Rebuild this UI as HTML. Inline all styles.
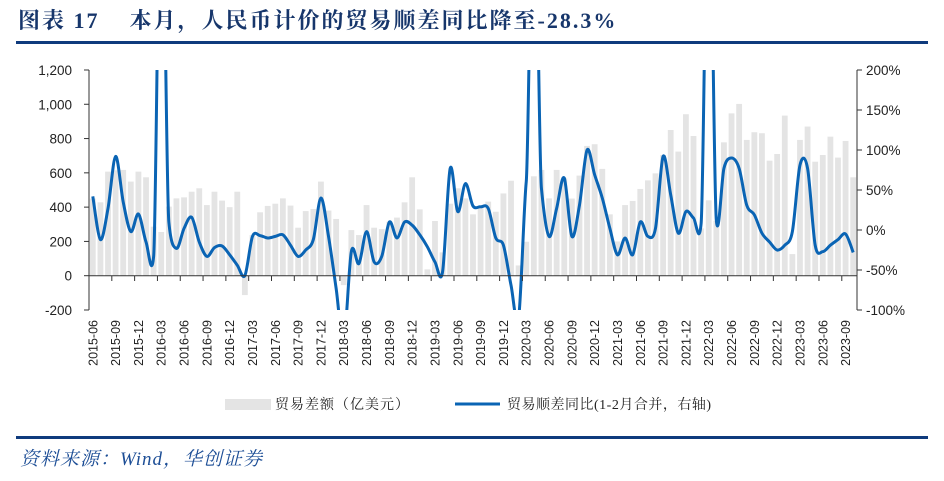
<!DOCTYPE html>
<html><head><meta charset="utf-8">
<style>
html,body{margin:0;padding:0;background:#fff;}
body{width:944px;height:481px;position:relative;overflow:hidden;}
.t{position:absolute;left:18px;top:4px;font:bold 22px "Liberation Serif","Noto Serif CJK SC",serif;color:#17366b;white-space:nowrap;letter-spacing:2px;}
.src{position:absolute;left:20px;top:444px;font:italic 19px "Liberation Serif","Noto Serif CJK SC",serif;color:#1d4e96;letter-spacing:1px;}
</style></head><body>
<div class="t">图表 17&nbsp;&nbsp;&nbsp;&nbsp;本月，人民币计价的贸易顺差同比降至-28.3%</div>
<div style="position:absolute;left:16px;top:41px;width:912px;height:3px;background:#0f3b7d"></div>
<div style="position:absolute;left:16px;top:436px;width:912px;height:3px;background:#0f3b7d"></div>
<div class="src">资料来源：Wind，华创证券</div>
<svg id="s" width="944" height="481" style="position:absolute;left:0;top:0" xmlns="http://www.w3.org/2000/svg"></svg>
<script>
var bars=[450,428,607,615,617,549,607,574,286,255,403,451,457,490,510,412,490,438,400,490,-113,237,370,407,420,451,409,280,377,389,549,380,331,-55,266,237,412,280,272,315,339,428,574,387,37,319,136,420,510,451,358,393,432,373,480,554,60,198,580,617,451,617,568,450,584,757,767,623,358,200,412,436,506,556,597,704,850,724,942,815,276,440,320,778,947,1002,792,837,831,671,710,934,126,792,870,665,704,811,689,786,574];
var line=[42,-12,27,92,35,-2,20,-15,-33,500,10,-23,2,16,-15,-33,-22,-20,-31,-44,-57,-8,-7,-10,-8,-6,-19,-33,-25,-12,40,-8,-73,-140,-27,-42,-2,-40,-33,10,-10,10,6,-6,-21,-40,-52,77,23,58,30,29,27,-10,-19,-69,-110,60,500,52,-8,27,65,-8,31,100,69,40,2,-31,-10,-31,10,-8,2,92,44,-4,23,15,8,500,12,77,90,77,31,19,-4,-15,-25,-19,-2,81,77,-19,-27,-19,-12,-5,-28];
var L=89,R=857,T=70,B=310,N=101,w=(R-L)/N;
function yl(v){return 275.7-v*240/1400;}
function yr(v){return 230-v*0.8;}
function cx(i){return L+w*(i+0.5);}
var h='<defs><clipPath id="c"><rect x="'+L+'" y="'+T+'" width="'+(R-L)+'" height="'+(B-T)+'"/></clipPath></defs>';
for(var i=0;i<N;i++){var y0=yl(0),y1=yl(bars[i]);h+='<rect x="'+(cx(i)-2.9)+'" y="'+Math.min(y0,y1)+'" width="5.8" height="'+Math.abs(y1-y0)+'" fill="#e4e4e4"/>';}
var P=line.map(function(v,i){return [cx(i),yr(v)];});
var k=0.16;
function tan(i){var a=P[Math.max(0,i-1)],b=P[Math.min(N-1,i+1)];var dx=(b[0]-a[0])*k,dy=(b[1]-a[1])*k;dy=Math.max(-25,Math.min(25,dy));return [dx,dy];}
var d='M'+P[0][0]+','+P[0][1];
for(var i=0;i<N-1;i++){var t1=tan(i),t2=tan(i+1),p1=P[i],p2=P[i+1];
d+=' C'+(p1[0]+t1[0])+','+(p1[1]+t1[1])+' '+(p2[0]-t2[0])+','+(p2[1]-t2[1])+' '+p2[0]+','+p2[1];}
h+='<path d="'+d+'" fill="none" stroke="#0a64b4" stroke-width="3" stroke-linejoin="round" clip-path="url(#c)"/>';
var ax='stroke="#333" stroke-width="1"';
h+='<line x1="'+L+'" y1="'+T+'" x2="'+L+'" y2="'+B+'" '+ax+'/>';
h+='<line x1="'+R+'" y1="'+T+'" x2="'+R+'" y2="'+B+'" '+ax+'/>';
h+='<line x1="'+L+'" y1="275.7" x2="'+R+'" y2="275.7" '+ax+'/>';
var f='font-family="Liberation Sans, sans-serif" font-size="13.5" fill="#222"';
for(var v=-200;v<=1200;v+=200){var y=yl(v);h+='<line x1="'+(L-5)+'" y1="'+y+'" x2="'+L+'" y2="'+y+'" '+ax+'/>';
h+='<text x="72" y="'+(y+5)+'" text-anchor="end" '+f+'>'+(v>=1000?v.toString().replace(/(\d)(\d{3})$/,'$1,$2'):v)+'</text>';}
for(var v=-100;v<=200;v+=50){var y=yr(v);h+='<line x1="'+R+'" y1="'+y+'" x2="'+(R+5)+'" y2="'+y+'" '+ax+'/>';
h+='<text x="866" y="'+(y+5)+'" '+f+'>'+v+'%</text>';}
var yy=2015,mm=6;var labs=[];
for(var i=0;i<N;i++){labs.push(yy+'-'+(mm<10?'0':'')+mm);mm++;if(mm>12){mm=1;yy++;}}
for(var i=0;i<N;i+=3){var x=L+w*i;if(i>0)h+='<line x1="'+x+'" y1="275.7" x2="'+x+'" y2="281" '+ax+'/>';
h+='<text transform="translate('+(cx(i)+4.5)+',320) rotate(-90)" text-anchor="end" font-family="Liberation Sans, sans-serif" font-size="12.5" fill="#222">'+labs[i]+'</text>';}
h+='<rect x="225" y="399" width="46" height="11" fill="#e4e4e4"/>';
h+='<text x="275" y="409" font-family="Liberation Serif, Noto Serif CJK SC, serif" font-size="14" letter-spacing="1" fill="#222">贸易差额（亿美元）</text>';
h+='<line x1="455" y1="404" x2="500" y2="404" stroke="#0a64b4" stroke-width="3"/>';
h+='<text x="507" y="409" font-family="Liberation Serif, Noto Serif CJK SC, serif" font-size="14" letter-spacing="0.5" fill="#222">贸易顺差同比(1-2月合并，右轴)</text>';
document.getElementById('s').innerHTML=h;
</script>
</body></html>
